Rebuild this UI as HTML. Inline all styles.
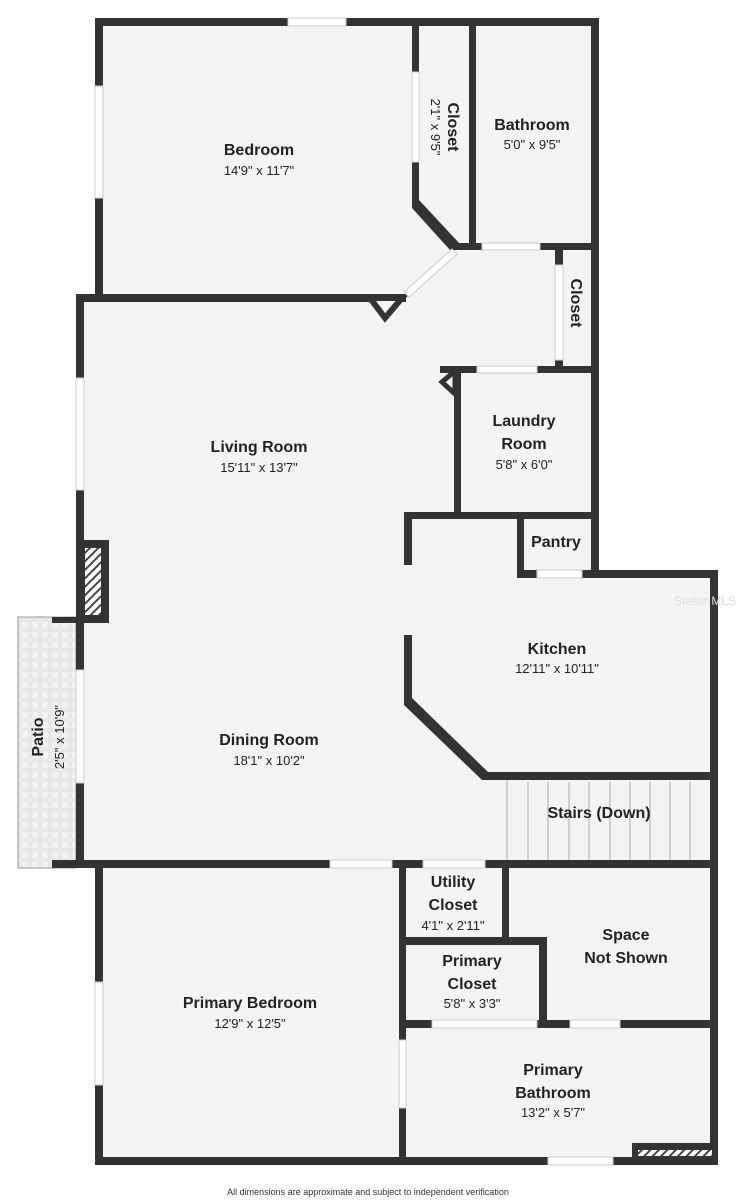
<!DOCTYPE html>
<html><head><meta charset="utf-8"><style>
html,body{margin:0;padding:0;background:#fff;}
svg{display:block}
text{font-family:"Liberation Sans",sans-serif;fill:#222;font-weight:bold;text-anchor:middle}
.d{font-weight:normal;font-size:13px}
.n{font-size:16px}
</style></head><body>
<svg width="737" height="1200" viewBox="0 0 737 1200" xmlns="http://www.w3.org/2000/svg">
<defs>
<pattern id="hatch" width="6" height="6" patternUnits="userSpaceOnUse" patternTransform="rotate(45)">
<rect width="6" height="6" fill="#fff"/><rect width="2" height="6" fill="#444"/></pattern>
<pattern id="tile" width="10" height="10" patternUnits="userSpaceOnUse">
<rect width="10" height="10" fill="#f2f2f2"/><rect x="1" y="1" width="8" height="8" fill="none" stroke="#ddd" stroke-width="1"/></pattern>
</defs>
<g fill="#f4f4f4">
<rect x="99" y="22" width="496" height="276"/>
<rect x="80" y="298" width="515" height="570"/>
<rect x="409" y="515" width="186" height="65"/>
<rect x="409" y="574" width="305" height="206"/>
<rect x="99" y="864" width="615" height="297"/>
</g>
<rect x="18" y="617" width="58" height="251" fill="url(#tile)" stroke="#999" stroke-width="1"/>
<rect x="507" y="780" width="203" height="80" fill="#f4f4f4"/>
<g stroke="#aaa" stroke-width="1">
<line x1="507" y1="780" x2="507" y2="860"/><line x1="528" y1="782" x2="528" y2="860"/><line x1="548" y1="782" x2="548" y2="860"/><line x1="569" y1="782" x2="569" y2="860"/><line x1="589" y1="782" x2="589" y2="860"/><line x1="610" y1="782" x2="610" y2="860"/><line x1="630" y1="782" x2="630" y2="860"/><line x1="650" y1="782" x2="650" y2="860"/><line x1="670" y1="782" x2="670" y2="860"/><line x1="690" y1="782" x2="690" y2="860"/>
</g>
<g fill="#333">
<rect x="95" y="18" width="504" height="8"/>
<rect x="95" y="18" width="8" height="280"/>
<rect x="412" y="18" width="7" height="187"/>
<rect x="469" y="18" width="7" height="230"/>
<rect x="591" y="18" width="8" height="560"/>
<rect x="455" y="243" width="144" height="7"/>
<polygon points="412,200 419,200 459,243 459,250 450,250 412,208"/>
<rect x="76" y="294" width="330" height="8"/>
<rect x="555" y="248" width="8" height="122"/>
<rect x="440" y="366" width="159" height="7"/>
<rect x="454" y="366" width="7" height="152"/>
<rect x="404" y="512" width="195" height="7"/>
<rect x="404" y="512" width="8" height="53"/>
<rect x="517" y="512" width="7" height="66"/>
<rect x="517" y="570" width="201" height="8"/>
<rect x="710" y="570" width="8" height="595"/>
<rect x="404" y="635" width="8" height="65"/>
<polygon points="404,698 412,698 488,772 488,780 482,780 404,705"/>
<rect x="482" y="772" width="236" height="8"/>
<rect x="76" y="294" width="8" height="574"/>
<rect x="76" y="540" width="33" height="83"/>
<rect x="52" y="860" width="666" height="8"/>
<rect x="52" y="617" width="32" height="6"/>
<rect x="95" y="860" width="8" height="305"/>
<rect x="95" y="1157" width="623" height="8"/>
<rect x="399" y="860" width="7" height="305"/>
<rect x="502" y="860" width="7" height="85"/>
<rect x="399" y="937" width="148" height="8"/>
<rect x="539" y="937" width="8" height="91"/>
<rect x="399" y="1020" width="319" height="8"/>
<rect x="632" y="1143" width="86" height="16"/>
</g>
<polygon points="370,298 402,298 385,318" fill="#f4f4f4" stroke="#333" stroke-width="6" stroke-linejoin="miter"/>
<polygon points="455,371 455,394 442,382" fill="#f4f4f4" stroke="#333" stroke-width="5"/>
<rect x="85" y="548" width="16" height="67" fill="url(#hatch)"/>
<rect x="638" y="1150" width="74" height="6" fill="url(#hatch)"/>
<g fill="#fff" stroke="#ccc" stroke-width="1">
<rect x="288" y="18" width="58" height="8"/>
<rect x="95" y="86" width="8" height="112"/>
<rect x="412" y="72" width="7" height="90"/>
<rect x="482" y="243" width="58" height="7"/>
<rect x="555" y="265" width="8" height="95"/>
<rect x="477" y="366" width="60" height="7"/>
<rect x="537" y="570" width="45" height="8"/>
<rect x="76" y="378" width="8" height="112"/>
<rect x="76" y="670" width="8" height="113"/>
<rect x="330" y="860" width="62" height="8"/>
<rect x="423" y="860" width="62" height="8"/>
<rect x="95" y="982" width="8" height="103"/>
<rect x="432" y="1020" width="105" height="8"/>
<rect x="570" y="1020" width="50" height="8"/>
<rect x="399" y="1040" width="7" height="68"/>
<rect x="548" y="1157" width="65" height="8"/>
</g>
<polygon points="404,292 452,249 457,254 409,297" fill="#fff" stroke="#ccc"/>
<text x="259" y="155" class="n">Bedroom</text><text x="259" y="175" class="d">14'9" x 11'7"</text>
<text x="532" y="130" class="n">Bathroom</text><text x="532" y="149" class="d">5'0" x 9'5"</text>
<text transform="translate(448,127) rotate(90)" class="n" x="0" y="0">Closet</text>
<text transform="translate(431,127) rotate(90)" class="d" x="0" y="0">2'1" x 9'5"</text>
<text transform="translate(571,303) rotate(90)" class="n" x="0" y="0">Closet</text>
<text x="259" y="452" class="n">Living Room</text><text x="259" y="472" class="d">15'11" x 13'7"</text>
<text x="524" y="426" class="n">Laundry</text><text x="524" y="449" class="n">Room</text><text x="524" y="469" class="d">5'8" x 6'0"</text>
<text x="556" y="547" class="n">Pantry</text>
<text x="557" y="654" class="n">Kitchen</text><text x="557" y="673" class="d">12'11" x 10'11"</text>
<text x="269" y="745" class="n">Dining Room</text><text x="269" y="765" class="d">18'1" x 10'2"</text>
<text x="599" y="818" class="n">Stairs (Down)</text>
<text transform="translate(43,737) rotate(-90)" class="n" x="0" y="0">Patio</text>
<text transform="translate(64,737) rotate(-90)" class="d" x="0" y="0">2'5" x 10'9"</text>
<text x="250" y="1008" class="n">Primary Bedroom</text><text x="250" y="1028" class="d">12'9" x 12'5"</text>
<text x="453" y="887" class="n">Utility</text><text x="453" y="910" class="n">Closet</text><text x="453" y="930" class="d">4'1" x 2'11"</text>
<text x="472" y="966" class="n">Primary</text><text x="472" y="989" class="n">Closet</text><text x="472" y="1008" class="d">5'8" x 3'3"</text>
<text x="626" y="940" class="n">Space</text><text x="626" y="963" class="n">Not Shown</text>
<text x="553" y="1075" class="n">Primary</text><text x="553" y="1098" class="n">Bathroom</text><text x="553" y="1117" class="d">13'2" x 5'7"</text>
<text x="705" y="605" style="font-size:12px;fill:#ddd;font-weight:normal">Stellar MLS</text>
<text x="368" y="1195" style="font-size:9px;font-weight:normal;fill:#333">All dimensions are approximate and subject to independent verification</text>
</svg>
</body></html>
